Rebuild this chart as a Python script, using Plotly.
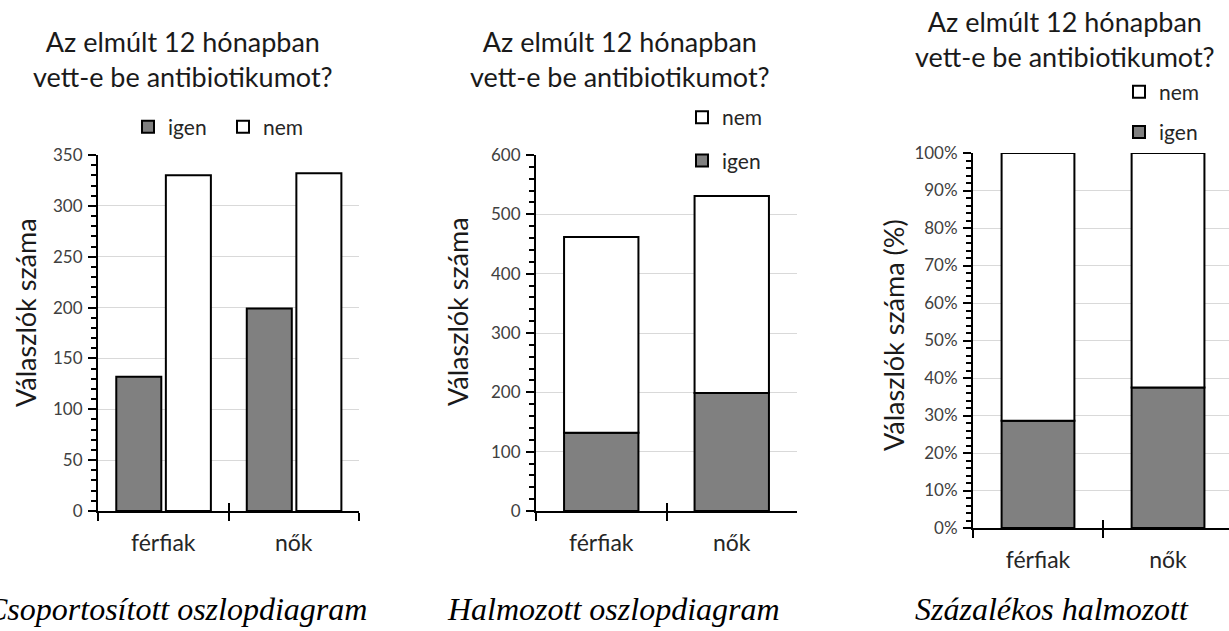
import plotly.graph_objects as go

categories = ["férfiak", "nők"]
igen = [132, 199]
nem = [330, 332]
series_names = ["igen", "nem"]
title_text = "Az elmúlt 12 hónapban<br>vett-e be antibiotikumot?"
captions = ["Csoportosított oszlopdiagram", "Halmozott oszlopdiagram", "Százalékos halmozott"]
ytitles = ["Válaszlók száma", "Válaszlók száma", "Válaszlók száma (%)"]

totals = [a + b for a, b in zip(igen, nem)]
igen_pct = [a / t for a, t in zip(igen, totals)]
nem_pct = [b / t for b, t in zip(nem, totals)]

GRAY = "#808080"
FONT = "Lato"
SERIF = "Liberation Serif"
W, H = 1229, 631

def px_x(p):
    return p / W

def px_y(p):
    return 1 - p / H

fig = go.Figure()
line = dict(color="black", width=2)

fig.add_trace(go.Bar(x=categories, y=igen, name=series_names[0], xaxis="x", yaxis="y",
                     marker=dict(color=GRAY, line=line), width=0.345, offset=-0.36,
                     legend="legend"))
fig.add_trace(go.Bar(x=categories, y=nem, name=series_names[1], xaxis="x", yaxis="y",
                     marker=dict(color="white", line=line), width=0.345, offset=0.02,
                     legend="legend"))
fig.add_trace(go.Bar(x=categories, y=igen, name=series_names[0], xaxis="x2", yaxis="y2",
                     marker=dict(color=GRAY, line=line), width=0.57, offset=-0.285,
                     legend="legend2", legendgroup="a2", legendrank=2))
fig.add_trace(go.Bar(x=categories, y=nem, base=igen, name=series_names[1], xaxis="x2", yaxis="y2",
                     marker=dict(color="white", line=line), width=0.57, offset=-0.285,
                     legend="legend2", legendgroup="b2", legendrank=1))
fig.add_trace(go.Bar(x=categories, y=igen_pct, name=series_names[0], xaxis="x3", yaxis="y3",
                     marker=dict(color=GRAY, line=line), width=0.56, offset=-0.28,
                     legend="legend3", legendgroup="a3", legendrank=2))
fig.add_trace(go.Bar(x=categories, y=nem_pct, base=igen_pct, name=series_names[1], xaxis="x3", yaxis="y3",
                     marker=dict(color="white", line=line), width=0.56, offset=-0.28,
                     legend="legend3", legendgroup="b3", legendrank=1))

panels = [
    dict(dom=(98, 359), ybot=511, ytop=155, rng=[0, 350], dtick=50, minor=10, fmt=None, xr=[-0.5, 1.5]),
    dict(dom=(536, 797), ybot=511, ytop=155, rng=[0, 600], dtick=100, minor=20, fmt=None, xr=[-0.5, 1.5]),
    dict(dom=(973, 1229), ybot=528, ytop=153, rng=[0, 1], dtick=0.1, minor=0.02, fmt=".0%", xr=[-0.5, 1.469]),
]

layout = dict()
n = len(categories)
for i, p in enumerate(panels):
    s = "" if i == 0 else str(i + 1)
    xd = [px_x(p["dom"][0]), min(1.0, px_x(p["dom"][1]))]
    yd = [px_y(p["ybot"]), px_y(p["ytop"])]
    layout["xaxis" + s] = dict(
        domain=xd, anchor="y" + s, type="category", range=p["xr"],
        showline=True, linecolor="black", linewidth=2,
        ticks="outside", tickson="boundaries", ticklen=8, tickwidth=2, tickcolor="black",
        showgrid=False, ticklabelstandoff=10, automargin=False,
        tickfont=dict(family=FONT, size=23, color="#262626"), fixedrange=True,
    )
    layout["yaxis" + s] = dict(
        domain=yd, anchor="x" + s, range=p["rng"], dtick=p["dtick"], tick0=0,
        showline=True, linecolor="black", linewidth=2,
        ticks="outside", ticklen=8, tickwidth=2, tickcolor="black",
        showgrid=True, gridcolor="#d9d9d9", gridwidth=1, zeroline=False,
        tickformat=p["fmt"], automargin=False, ticklabelstandoff=2,
        minor=dict(dtick=p["minor"], ticks="outside", ticklen=5, tickwidth=1.5, tickcolor="black", showgrid=False),
        tickfont=dict(family=FONT, size=17, color="#404040"), fixedrange=True,
    )
    layout["xaxis" + str(i + 4)] = dict(
        domain=xd, anchor="y" + s, overlaying="x" + s, range=p["xr"],
        tickmode="array", tickvals=[k - 0.5 for k in range(n + 1)],
        ticks="inside", ticklen=8, tickwidth=2, tickcolor="black",
        showticklabels=False, showgrid=False, showline=False, zeroline=False, fixedrange=True,
    )

for i in range(3):
    fig.add_trace(go.Scatter(x=[None], y=[None], xaxis="x" + str(i + 4), yaxis="y" if i == 0 else "y" + str(i + 1),
                             showlegend=False, hoverinfo="skip"))

legfont = dict(family=FONT, size=21, color="#262626")
layout.update(
    width=W, height=H, margin=dict(l=0, r=0, t=0, b=0, autoexpand=False),
    paper_bgcolor="white", plot_bgcolor="white", barmode="overlay",
    legend=dict(orientation="h", x=px_x(128), y=px_y(127), xanchor="left", yanchor="middle",
                font=legfont, bgcolor="rgba(0,0,0,0)", itemwidth=30, entrywidth=50),
    legend2=dict(orientation="v", x=px_x(682), y=px_y(139), xanchor="left", yanchor="middle",
                 font=legfont, bgcolor="white", itemwidth=30, traceorder="grouped", tracegroupgap=13),
    legend3=dict(orientation="v", x=px_x(1119), y=px_y(112), xanchor="left", yanchor="middle",
                 font=legfont, bgcolor="white", itemwidth=30, traceorder="grouped", tracegroupgap=10),
    showlegend=True,
)

annotations = []
title_pos = [(183, 59), (620, 59), (1065, 39)]
for (x, y) in title_pos:
    annotations.append(dict(text=title_text, x=px_x(x), y=px_y(y), xref="paper", yref="paper",
                            xanchor="center", yanchor="middle", showarrow=False,
                            font=dict(family=FONT, size=27, color="#1a1a1a")))
ytitle_pos = [(25, 313), (458, 312), (893, 335)]
for t, (x, y) in zip(ytitles, ytitle_pos):
    annotations.append(dict(text=t, x=px_x(x), y=px_y(y), xref="paper", yref="paper",
                            xanchor="center", yanchor="middle", showarrow=False, textangle=-90,
                            font=dict(family=FONT, size=27, color="#1a1a1a")))
cap_pos = [(176, 609), (613, 609), (1052, 609)]
for t, (x, y) in zip(captions, cap_pos):
    annotations.append(dict(text="<i>" + t + "</i>", x=px_x(x), y=px_y(y), xref="paper", yref="paper",
                            xanchor="center", yanchor="middle", showarrow=False,
                            font=dict(family=SERIF, size=32, color="black")))
layout["annotations"] = annotations

fig.update_layout(**layout)
fig.write_html("out.html")
